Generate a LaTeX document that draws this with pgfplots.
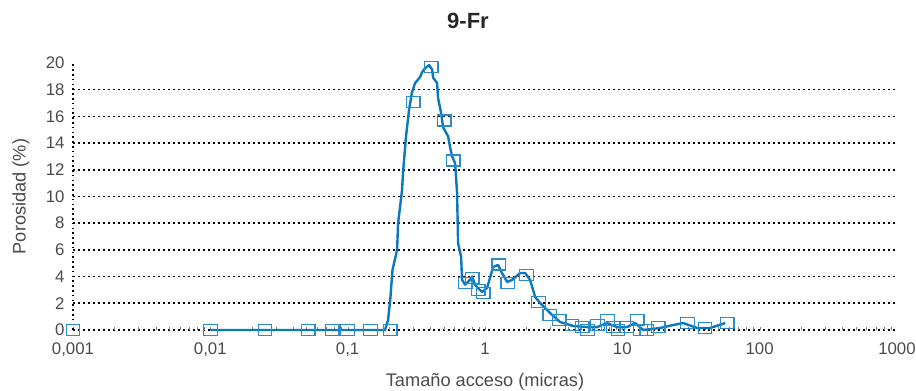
\documentclass[border=0pt]{standalone}
\usepackage{pgfplots}
\pgfplotsset{compat=1.18}
\usepackage{fontspec}
\setmainfont{Liberation Sans}
\definecolor{lineblue}{HTML}{0A78C0}
\definecolor{markblue}{HTML}{2A8CCB}
\definecolor{txt}{HTML}{4A4A4A}
\begin{document}
\begin{tikzpicture}
\useasboundingbox (0,0) rectangle (916pt,391pt);
\node[font=\fontsize{22}{24}\selectfont\bfseries, text=black!85] at (468pt,370pt) {9-Fr};
\begin{axis}[
  at={(73pt,61pt)}, anchor=south west,
  scale only axis, width=824pt, height=267pt,
  xmode=log, xmin=0.001, xmax=1000, ymin=0, ymax=20,
  axis lines*=left,
  x axis line style={draw=none},
  y axis line style={draw=black, line width=1.6pt, dash pattern=on 1.6pt off 3.2pt},
  xtick={0.001,0.01,0.1,1,10,100,1000},
  xticklabels={{0,001},{0,01},{0,1},1,10,100,1000},
  ytick={0,2,...,18},
  extra y ticks={20}, extra y tick style={grid=none},
  minor xtick={}, major tick length=0pt,
  ymajorgrids,
  major grid style={draw=black, line width=1.6pt, dash pattern=on 1.6pt off 3.4pt},
  tick label style={font=\fontsize{16.8}{18}\selectfont, text=txt},
  xticklabel style={yshift=-9pt},
  yticklabel style={xshift=-5pt},
  label style={font=\fontsize{18.2}{20}\selectfont, text=txt},
  xlabel={Tamaño acceso (micras)},
  ylabel={Porosidad (\%)},
  xlabel style={at={(axis description cs:0.5,0)}, anchor=north, yshift=-40pt},
  ylabel style={at={(axis description cs:0,0.5)}, anchor=south, yshift=40pt},
  /pgf/number format/assume math mode=true,
  clip=false,
]
\addplot[color=lineblue, line width=2.4pt, line join=round] coordinates {
(0.01,0) (0.187,0) (0.197,0.75) (0.205,2.47) (0.212,4.49) (0.229,6.0) (0.233,8.0)
(0.249,10.5) (0.253,11.8) (0.266,14.5) (0.280,16.5) (0.294,17.8) (0.310,18.5)
(0.337,18.95) (0.348,19.3) (0.366,19.6) (0.392,19.85) (0.412,19.5) (0.419,18.9)
(0.448,18.5) (0.455,17.4) (0.479,16.25) (0.495,15.2) (0.539,14.5) (0.557,13.7)
(0.576,13.0) (0.606,12.5) (0.626,10.3) (0.637,6.5) (0.670,5.5) (0.681,3.75)
(0.716,3.4) (0.778,3.75) (0.805,4.0) (0.847,3.4) (0.876,3.2) (0.953,2.85)
(1.036,3.15) (1.145,4.72) (1.245,4.87) (1.33,4.27) (1.45,3.6) (1.575,3.75)
(1.80,4.27) (1.96,4.27) (2.13,3.75) (2.32,2.47) (2.52,2.02) (2.98,1.27)
(3.52,0.6) (4.38,0.3) (5.54,0.22) (6.55,0.22) (7.75,0.52) (9.16,0.22)
(10.8,0.22) (12.4,0.52) (14.2,0.0) (18.8,0.15) (23.4,0.37) (27.7,0.52)
(35.1,0.15) (43.6,0.15) (56.1,0.52)
};
\addplot[only marks, mark=square, color=markblue, mark size=5.5pt,
  mark options={xscale=1.25, line width=1.2pt}] coordinates {
(0.001,0) (0.01,0) (0.025,0) (0.0515,0) (0.077,0) (0.1,0) (0.146,0) (0.204,0)
(0.30,17.1) (0.405,19.7) (0.504,15.7) (0.586,12.7)
(0.716,3.5) (0.805,3.9) (0.89,3.0) (0.97,2.8) (1.26,4.9) (1.47,3.5) (2.0,4.1)
(2.45,2.1) (2.97,1.1) (3.46,0.75) (4.3,0.4) (5.1,0.2) (5.6,0.0) (6.6,0.4)
(7.8,0.75) (8.6,0.2) (9.3,0.0) (10.8,0.2) (12.8,0.75) (13.5,0.0) (15.1,0.0)
(18.2,0.2) (29.7,0.5) (40,0.15) (58,0.5)
};
\end{axis}
\end{tikzpicture}
\end{document}
